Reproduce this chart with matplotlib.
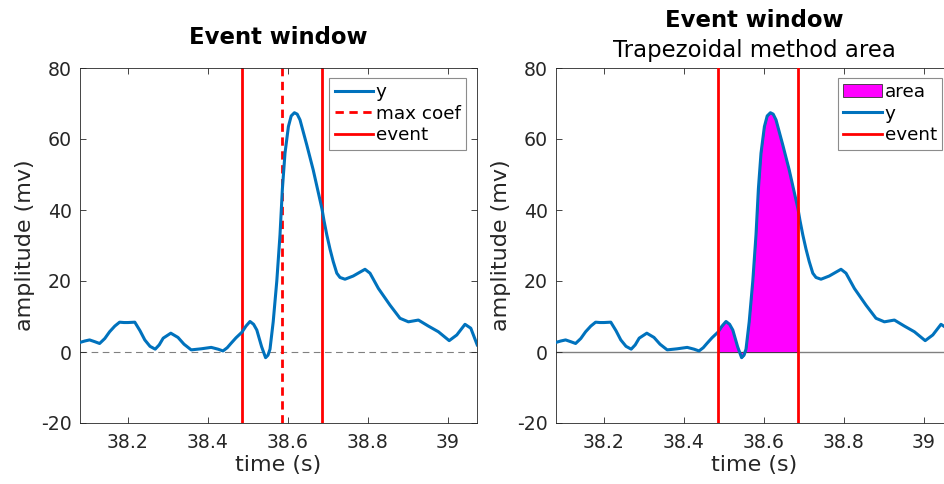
import numpy as np
import matplotlib.pyplot as plt

# signal (time in s, amplitude in mv)
t = [38.080, 38.092, 38.104, 38.117, 38.129, 38.142, 38.154, 38.167, 38.179, 38.190,
     38.200, 38.217, 38.230, 38.242, 38.255, 38.268, 38.278, 38.288, 38.307, 38.325,
     38.340, 38.358, 38.383, 38.408, 38.425, 38.4375, 38.448, 38.458, 38.470, 38.485,
     38.495, 38.505, 38.514, 38.522, 38.534, 38.544, 38.550, 38.555, 38.563, 38.572,
     38.580, 38.586, 38.5925, 38.601, 38.608, 38.616, 38.623, 38.630, 38.647, 38.663,
     38.685, 38.690, 38.697, 38.705, 38.713, 38.722, 38.730, 38.7425, 38.763, 38.780,
     38.7925, 38.805, 38.826, 38.855, 38.880, 38.901, 38.926, 38.951, 38.976, 39.003,
     39.022, 39.0425, 39.057, 39.073]
y = [2.7, 3.1, 3.4, 2.9, 2.4, 3.8, 5.7, 7.3, 8.4, 8.3,
     8.3, 8.4, 6.0, 3.4, 1.6, 0.8, 2.0, 3.9, 5.3, 4.1,
     2.2, 0.6, 0.9, 1.3, 0.8, 0.3, 1.2, 2.5, 4.0, 5.6,
     7.3, 8.6, 7.8, 6.2, 1.5, -1.6, -0.9, 0.8, 8.5, 20.0,
     33.0, 46.0, 56.0, 63.5, 66.5, 67.4, 67.0, 65.4, 58.3, 51.3,
     40.3, 37.0, 33.0, 29.0, 25.5, 22.2, 21.0, 20.5, 21.4, 22.5,
     23.3, 22.2, 17.9, 13.2, 9.5, 8.5, 9.0, 7.3, 5.7, 3.2,
     4.8, 7.8, 6.7, 2.0]

event_start = 38.485
event_end = 38.685
max_coef = 38.585

t = np.array(t)
y = np.array(y)

BLUE = '#0072BD'
TXT = '#262626'

plt.rcParams['font.family'] = 'DejaVu Sans'

fig = plt.figure(figsize=(9.45, 4.84), dpi=100)
W, H = 945, 484
ax1 = fig.add_axes([80 / W, 61 / H, 397 / W, 355 / H])
ax2 = fig.add_axes([556 / W, 61 / H, 397 / W, 355 / H])


def style_axes(ax):
    ax.set_xlim(38.08, 39.0725)
    ax.set_ylim(-20, 80)
    ax.set_xticks([38.2, 38.4, 38.6, 38.8, 39])
    ax.set_xticklabels(['38.2', '38.4', '38.6', '38.8', '39'])
    ax.set_yticks([-20, 0, 20, 40, 60, 80])
    ax.set_yticklabels(['-20', '0', '20', '40', '60', '80'])
    ax.tick_params(direction='in', top=True, right=True, length=4, width=0.6,
                   labelsize=13.6, colors=TXT, pad=7)
    ax.tick_params(axis='y', pad=6)
    for s in ax.spines.values():
        s.set_color(TXT)
        s.set_linewidth(0.6)
    ax.set_xlabel('time (s)', fontsize=16, color=TXT, labelpad=2)
    ax.set_ylabel('amplitude (mv)', fontsize=16, color=TXT, labelpad=4)


leg_kw = dict(loc='upper right', bbox_to_anchor=(0.972, 0.972), borderaxespad=0,
              fontsize=13.2, fancybox=False, framealpha=1, edgecolor='#8c8c8c',
              handlelength=2.1, handletextpad=0.15, labelspacing=0.2,
              borderpad=0.28)

# left panel
style_axes(ax1)
ax1.axhline(0, color='#808080', lw=0.8, ls=(0, (6, 4)), zorder=1)
ln_y, = ax1.plot(t, y, color=BLUE, lw=2.2, label='y', zorder=3)
ln_m = ax1.axvline(max_coef, color='red', lw=2, ls=(0, (3, 2)), label='max coef', zorder=2)
ln_e = ax1.axvline(event_start, color='red', lw=2, label='event', zorder=2)
ax1.axvline(event_end, color='red', lw=2, zorder=2)
lg = ax1.legend(handles=[ln_y, ln_m, ln_e], **leg_kw)
lg.get_frame().set_linewidth(0.8)
ax1.text(0.5, 1.087, 'Event window', transform=ax1.transAxes, ha='center',
         va='center', fontsize=16.4, fontweight='bold')

# right panel
style_axes(ax2)
ax2.axhline(0, color='#808080', lw=1, zorder=1)
mask = (t >= event_start) & (t <= event_end)
area = ax2.fill_between(t[mask], y[mask], 0, facecolor='#FF00FF', edgecolor='#333333',
                        lw=0.6, label='area', zorder=2)
ln_y2, = ax2.plot(t, y, color=BLUE, lw=2.2, label='y', zorder=3)
ln_e2 = ax2.axvline(event_start, color='red', lw=2, label='event', zorder=4)
ax2.axvline(event_end, color='red', lw=2, zorder=4)
lg2 = ax2.legend(handles=[area, ln_y2, ln_e2], **leg_kw)
lg2.get_frame().set_linewidth(0.8)
ax2.text(0.5, 1.135, 'Event window', transform=ax2.transAxes, ha='center',
         va='center', fontsize=16.4, fontweight='bold')
ax2.text(0.5, 1.048, 'Trapezoidal method area', transform=ax2.transAxes, ha='center',
         va='center', fontsize=16.4)

fig.savefig('out.png', dpi=100)
